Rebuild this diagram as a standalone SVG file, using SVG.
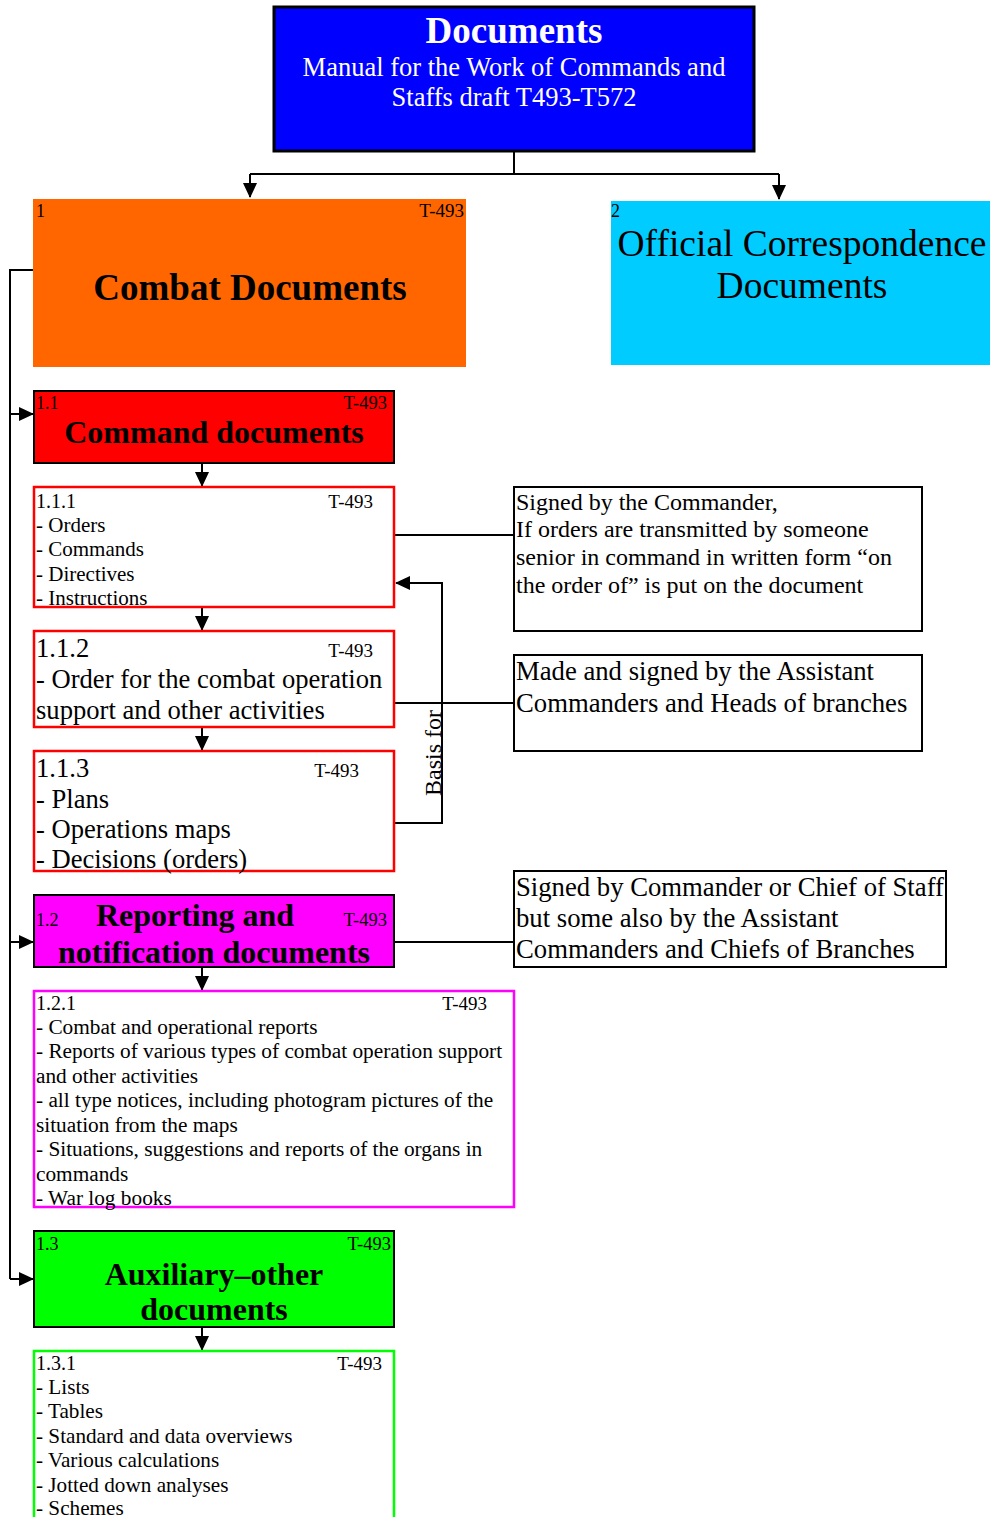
<svg xmlns="http://www.w3.org/2000/svg" width="990" height="1517" viewBox="0 0 990 1517">
  <defs>
    <marker id="arr" markerWidth="15" markerHeight="14" refX="14" refY="7" orient="auto" markerUnits="userSpaceOnUse">
      <path d="M0,0 L15,7 L0,14 Z" fill="#000"/>
    </marker>
    <style>
      text { font-family: "Liberation Serif", "Times New Roman", serif; fill: #000; }
      .b { font-weight: bold; }
      .w { fill: #fff; }
      .mid { text-anchor: middle; }
      .end { text-anchor: end; }
      .edge { fill: none; stroke: #000; stroke-width: 2; }
      .head { fill: none; stroke: #000; stroke-width: 2; marker-end: url(#arr); }
      .note { fill: #fff; stroke: #000; stroke-width: 2; }
      .sub { fill: #fff; stroke-width: 2.5; }
    </style>
  </defs>

  <!-- connectors -->
  <g id="connectors">
    <path class="edge" d="M514,151 V174 M250,174 H779"/>
    <path class="head" d="M250,174 V197"/>
    <path class="head" d="M779,174 V199"/>
    <!-- left trunk from Combat Documents -->
    <path class="edge" d="M33,270 H10 V1279"/>
    <path class="head" d="M10,414 H33"/>
    <path class="head" d="M10,942 H33"/>
    <path class="head" d="M10,1279 H33"/>
    <!-- vertical chain -->
    <path class="head" d="M202,463 V486"/>
    <path class="head" d="M202,607 V630"/>
    <path class="head" d="M202,727 V750"/>
    <path class="head" d="M202,967 V990"/>
    <path class="head" d="M202,1327 V1350"/>
    <!-- "Basis for" loop -->
    <path class="head" d="M394,823 H442 V583 H396"/>
    <!-- note links -->
    <path class="edge" d="M394,535 H514"/>
    <path class="edge" d="M394,703 H514"/>
    <path class="edge" d="M394,942 H514"/>
    <text transform="translate(441,753) rotate(-90)" class="mid" font-size="24">Basis for</text>
  </g>

  <!-- root -->
  <g id="root">
    <rect x="274" y="7" width="480" height="144" fill="#0000FF" stroke="#000" stroke-width="3"/>
    <text x="514" y="43" class="b w mid" font-size="37">Documents</text>
    <text x="514" y="76" class="w mid" font-size="26.5">Manual for the Work of Commands and</text>
    <text x="514" y="106" class="w mid" font-size="26.5">Staffs draft T493-T572</text>
  </g>

  <g id="combat">
    <rect x="33" y="199" width="433" height="168" fill="#FF6600"/>
    <text x="36" y="217" font-size="18">1</text>
    <text x="464" y="217" class="end" font-size="19">T-493</text>
    <text x="250" y="300" class="b mid" font-size="37">Combat Documents</text>
  </g>

  <g id="official">
    <rect x="611" y="201" width="379" height="164" fill="#00CCFF"/>
    <text x="611" y="217" font-size="18">2</text>
    <text x="802" y="256" class="mid" font-size="37.5">Official Correspondence</text>
    <text x="802" y="298" class="mid" font-size="37.5">Documents</text>
  </g>

  <g id="command">
    <rect x="34" y="391" width="360" height="72" fill="#FF0000" stroke="#000" stroke-width="2"/>
    <text x="36" y="409" font-size="18">1.1</text>
    <text x="387" y="409" class="end" font-size="18.5">T-493</text>
    <text x="214" y="443" class="b mid" font-size="32">Command documents</text>
  </g>

  <g id="n111">
    <rect x="34" y="487" width="360" height="120" class="sub" stroke="#FF0000"/>
    <text x="36" y="508" font-size="20">1.1.1</text>
    <text x="373" y="508" class="end" font-size="19">T-493</text>
    <text x="36" y="532" font-size="21">- Orders</text>
    <text x="36" y="556" font-size="21">- Commands</text>
    <text x="36" y="581" font-size="21">- Directives</text>
    <text x="36" y="605" font-size="21">- Instructions</text>
  </g>

  <g id="n112">
    <rect x="34" y="631" width="360" height="96" class="sub" stroke="#FF0000"/>
    <text x="36" y="657" font-size="26.6">1.1.2</text>
    <text x="373" y="657" class="end" font-size="19">T-493</text>
    <text x="36" y="688" font-size="26.6">- Order for the combat operation</text>
    <text x="36" y="719" font-size="26.6">support and other activities</text>
  </g>

  <g id="n113">
    <rect x="34" y="751" width="360" height="120" class="sub" stroke="#FF0000"/>
    <text x="36" y="777" font-size="26.6">1.1.3</text>
    <text x="359" y="777" class="end" font-size="19">T-493</text>
    <text x="36" y="808" font-size="26.6">- Plans</text>
    <text x="36" y="838" font-size="26.6">- Operations maps</text>
    <text x="36" y="868" font-size="26.6">- Decisions (orders)</text>
  </g>

  <g id="noteA">
    <rect x="514" y="487" width="408" height="144" class="note"/>
    <text x="516" y="510" font-size="24">Signed by the Commander,</text>
    <text x="516" y="537" font-size="24">If orders are transmitted by someone</text>
    <text x="516" y="565" font-size="24">senior in command in written form “on</text>
    <text x="516" y="593" font-size="24">the order of” is put on the document</text>
  </g>

  <g id="noteB">
    <rect x="514" y="655" width="408" height="96" class="note"/>
    <text x="516" y="680" font-size="26.7">Made and signed by the Assistant</text>
    <text x="516" y="712" font-size="26.7">Commanders and Heads of branches</text>
  </g>

  <g id="reporting">
    <rect x="34" y="895" width="360" height="72" fill="#FF00FF" stroke="#000" stroke-width="2"/>
    <text x="36" y="926" font-size="18">1.2</text>
    <text x="387" y="926" class="end" font-size="18.5">T-493</text>
    <text x="195" y="926" class="b mid" font-size="32">Reporting and</text>
    <text x="214" y="963" class="b mid" font-size="32">notification documents</text>
  </g>

  <g id="noteC">
    <rect x="514" y="871" width="432" height="96" class="note"/>
    <text x="516" y="896" font-size="26.7">Signed by Commander or Chief of Staff</text>
    <text x="516" y="927" font-size="26.7">but some also by the Assistant</text>
    <text x="516" y="958" font-size="26.7">Commanders and Chiefs of Branches</text>
  </g>

  <g id="n121">
    <rect x="34" y="991" width="480" height="216" class="sub" stroke="#FF00FF"/>
    <text x="36" y="1010" font-size="20">1.2.1</text>
    <text x="487" y="1010" class="end" font-size="19">T-493</text>
    <text x="36" y="1034" font-size="21.3">- Combat and operational reports</text>
    <text x="36" y="1058" font-size="21.3">- Reports of various types of combat operation support</text>
    <text x="36" y="1083" font-size="21.3">and other activities</text>
    <text x="36" y="1107" font-size="21.3">- all type notices, including photogram pictures of the</text>
    <text x="36" y="1132" font-size="21.3">situation from the maps</text>
    <text x="36" y="1156" font-size="21.3">- Situations, suggestions and reports of the organs in</text>
    <text x="36" y="1181" font-size="21.3">commands</text>
    <text x="36" y="1205" font-size="21.3">- War log books</text>
  </g>

  <g id="auxiliary">
    <rect x="34" y="1231" width="360" height="96" fill="#00FF00" stroke="#000" stroke-width="2"/>
    <text x="36" y="1250" font-size="18">1.3</text>
    <text x="391" y="1250" class="end" font-size="18.5">T-493</text>
    <text x="214" y="1285" class="b mid" font-size="32">Auxiliary–other</text>
    <text x="214" y="1320" class="b mid" font-size="32">documents</text>
  </g>

  <g id="n131">
    <rect x="34" y="1351" width="360" height="180" class="sub" stroke="#00FF00"/>
    <text x="36" y="1370" font-size="20">1.3.1</text>
    <text x="382" y="1370" class="end" font-size="19">T-493</text>
    <text x="36" y="1394" font-size="21.2">- Lists</text>
    <text x="36" y="1418" font-size="21.2">- Tables</text>
    <text x="36" y="1443" font-size="21.2">- Standard and data overviews</text>
    <text x="36" y="1467" font-size="21.2">- Various calculations</text>
    <text x="36" y="1492" font-size="21.2">- Jotted down analyses</text>
    <text x="36" y="1515" font-size="21.2">- Schemes</text>
  </g>
</svg>
